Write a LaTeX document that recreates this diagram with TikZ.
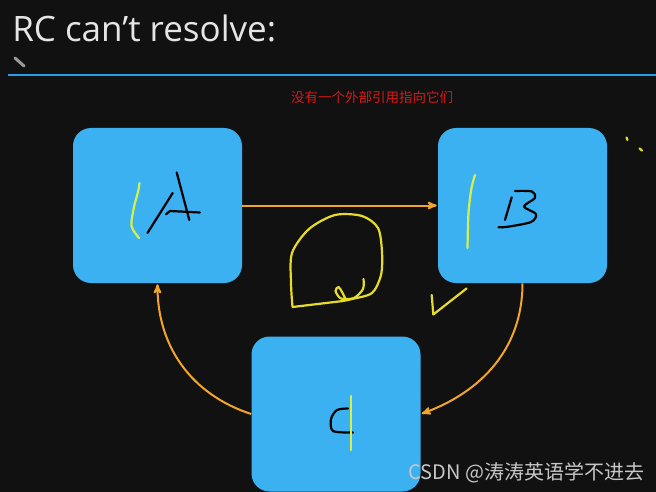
\documentclass[tikz,border=0pt]{standalone}
\usepackage{fontspec}
\setmainfont{Open Sans}
\newfontfamily\cjk{Noto Sans CJK SC}
\usetikzlibrary{arrows,positioning}
\definecolor{board}{HTML}{111111}
\definecolor{boxblue}{HTML}{3CB1F2}
\definecolor{linkorange}{HTML}{F2A52A}
\definecolor{ruleblue}{HTML}{2A9BE6}
\definecolor{penyellow}{HTML}{E6DC28}
\definecolor{penlime}{HTML}{D6F04A}
\definecolor{notered}{HTML}{D41A1A}

\begin{document}
\begin{tikzpicture}[x=1pt,y=-1pt,>=stealth',node distance=365pt,semithick]
  \tikzstyle{box}=[rectangle,rounded corners=18pt,fill=boxblue,minimum width=169pt,minimum height=155pt,inner sep=0pt]
  \tikzstyle{ink}=[line width=2.2pt,line cap=round,line join=round]
  \tikzstyle{link}=[->,linkorange,line width=2pt,shorten >=1pt]

  \fill[board] (0,0) rectangle (656,492);
  \useasboundingbox (0,0) rectangle (656,492);

  \node[anchor=base west,text=white!90!black,font=\fontsize{35}{40}\selectfont,inner sep=0pt] (title) at (12,42) {RC can’t resolve:};
  \draw[ruleblue,line width=2.2pt] (8,75) -- (656,75);
  \draw[gray!80!white,line width=3pt,line cap=round] (15,58) -- (24,66);
  \node[text=notered,font=\cjk\fontsize{13.5}{16}\selectfont] (note) at (372,97) {没有一个外部引用指向它们};

  \node[box]         (A) at (157.5,205.5) {};
  \node[box]         (B) [right of=A]     {};
  \node[box]         (C) at (336,414)     {};

  \draw[link] (A.east) -- (B.west);
  \draw[link] (B.south) to[out=-90,in=20] (C.east);
  \draw[link] (C.west) to[out=162,in=-90] (A.south);

  % hand marks on A
  \draw[ink,penlime] plot[smooth] coordinates {(139.5,183) (138,192) (134,207) (131.5,226) (139,238)};
  \draw[ink] (176.7,172.5) -- (189.3,220);
  \draw[ink] (172.7,193) -- (147.5,233);
  \draw[ink] (166,214.3) -- (170,211) -- (200,212.5);
  % hand marks on B
  \draw[ink,penlime] plot[smooth] coordinates {(475,175) (471.5,188) (468.5,213) (467.5,248)};
  \draw[ink] (511.7,197.3) -- (505,220);
  \draw[ink] plot[smooth] coordinates {(515,191) (532,191.5) (535,198) (524,206.5) (536,214) (531,222) (508,226.7) (498.5,227.3)};
  % hand marks on C
  \draw[ink] plot[smooth] coordinates {(348,408.5) (337,410) (331,419) (333,431) (353,432.5)};
  \draw[ink,penlime] (351,396) -- (351,450);

  % scribbles between the boxes
  \draw[ink,penyellow] plot[smooth] coordinates {(292.5,307) (291,283) (292,253) (309,229) (335,215) (362,216) (378,228) (382,252) (381,275) (372,293) (352,299) (343,301)} -- (292.5,307);
  \draw[ink,penyellow] plot[smooth] coordinates {(363.5,279) (363,289) (354,298) (341,298.5) (335.5,291) (338.5,287) (342,292) (346,300)};
  \draw[ink,penyellow] (431.7,295) -- (433.3,314.5) -- (466.5,288.5);
  \draw[ink,penyellow] (626.5,137.5) -- (627.5,140);
  \draw[ink,penyellow] (639.5,148.5) -- (642,150.5);

  \node[anchor=base west,text=white!78!black,font=\cjk\fontsize{20}{24}\selectfont,inner sep=0pt] (wm) at (408,479) {CSDN @涛涛英语学不进去};
\end{tikzpicture}
\end{document}
